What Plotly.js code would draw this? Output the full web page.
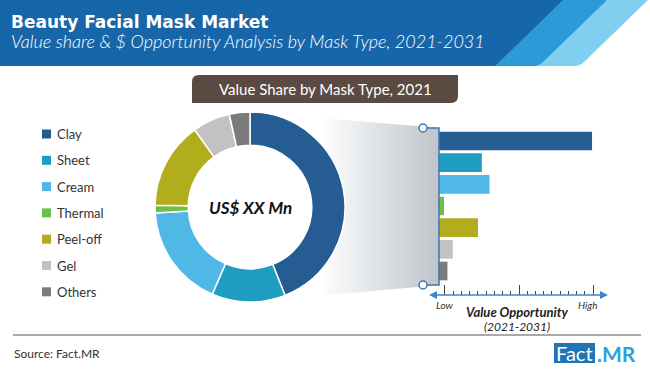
<!DOCTYPE html>
<html>
<head>
<meta charset="utf-8">
<script src="https://cdn.plot.ly/plotly-3.0.1.min.js"></script>
<style>html,body{margin:0;padding:0;background:#fff;}#chart{width:650px;height:371px;}</style>
</head>
<body>
<div id="chart"></div>
<script>
// ---- data ----
const categories = ['Clay', 'Sheet', 'Cream', 'Thermal', 'Peel-off', 'Gel', 'Others'];
const share2021 = [44, 12.5, 17.5, 1.3, 14.8, 6.4, 3.5];          // value share, %, 2021
const opportunity = [100, 28, 33, 3.3, 25.5, 9, 5.5];              // relative $ opportunity index 2021-2031
const colors = ['#255d92', '#1f9cc2', '#50b8e6', '#6cbf4a', '#b1ad1c', '#c2c2c2', '#7b7b7b'];
const scaleLabels = ['Low', 'High'];

const titleText = 'Beauty Facial Mask Market';
const subtitleText = 'Value share & $ Opportunity Analysis by Mask Type, 2021-2031';
const pieTitle = 'Value Share by Mask Type, 2021';
const centerText = 'US$ XX Mn';
const axisTitle1 = 'Value Opportunity';
const axisTitle2 = '(2021-2031)';
const sourceText = 'Source: Fact.MR';

const W = 650, H = 371;
const FONT = 'Lato, "Open Sans", sans-serif';

const traces = [];

// gradient funnel (decoration, pixel axis x2/y2)
traces.push({
  type: 'scatter', mode: 'lines', xaxis: 'x2', yaxis: 'y2',
  x: [250, 439, 439, 250], y: [112, 128, 285, 302],
  fill: 'toself', line: {width: 0, color: 'rgba(0,0,0,0)'},
  fillgradient: {type: 'horizontal', colorscale: [[0, '#ffffff'], [0.37, '#ffffff'], [0.7, '#dce0e4'], [1, '#c0c4c8']]},
  hoverinfo: 'skip', showlegend: false
});

// bars
traces.push({
  type: 'bar', orientation: 'h', xaxis: 'x', yaxis: 'y',
  y: categories, x: opportunity,
  marker: {color: colors, line: {width: 0}},
  hoverinfo: 'none', showlegend: false
});

// donut
traces.push({
  type: 'pie', labels: categories, values: share2021,
  marker: {colors: colors, line: {color: '#ffffff', width: 1.5}},
  hole: 0.65, sort: false, direction: 'clockwise', rotation: 0,
  textinfo: 'none', hoverinfo: 'none', showlegend: false,
  domain: {x: [155 / W, 345 / W], y: [(H - 302) / H, (H - 112) / H]}
});

const shapes = [];
const P = {xref: 'x2', yref: 'y2'};
function sh(o) { return Object.assign({}, P, o); }

// header band
shapes.push(sh({type: 'path', path: 'M0,0 L648,0 L584,62 Q580,66 574,66 L0,66 Z', fillcolor: '#80cff0', line: {width: 0}, layer: 'below'}));
shapes.push(sh({type: 'path', path: 'M0,0 L607,0 L543,62 Q539,66 533,66 L0,66 Z', fillcolor: '#2b9ad6', line: {width: 0}, layer: 'below'}));
shapes.push(sh({type: 'path', path: 'M0,0 L563,0 L495,66 L0,66 Z', fillcolor: '#1766aa', line: {width: 0}, layer: 'below'}));

// title box
shapes.push(sh({type: 'path', path: 'M199,75 L458,75 L458,96 Q458,103 451,103 L192,103 L192,82 Q192,75 199,75 Z', fillcolor: '#5b4a42', line: {width: 0}}));

// bracket
shapes.push(sh({type: 'path', path: 'M423,128 L439,128 L439,285 L423,285', line: {color: '#3a78b4', width: 1.5}}));
shapes.push(sh({type: 'circle', x0: 419, x1: 427, y0: 124, y1: 132, fillcolor: '#ffffff', line: {color: '#3a78b4', width: 1.5}}));
shapes.push(sh({type: 'circle', x0: 419, x1: 427, y0: 281, y1: 289, fillcolor: '#ffffff', line: {color: '#3a78b4', width: 1.5}}));

// arrow
shapes.push(sh({type: 'line', x0: 435, x1: 602, y0: 295, y1: 295, line: {color: '#3b86c8', width: 1.5}}));
shapes.push(sh({type: 'path', path: 'M429,295 L437,291 L437,299 Z', fillcolor: '#3b86c8', line: {width: 0}}));
shapes.push(sh({type: 'path', path: 'M608,295 L600,291 L600,299 Z', fillcolor: '#3b86c8', line: {width: 0}}));

// separator
shapes.push(sh({type: 'line', x0: 13, x1: 641, y0: 335, y1: 335, line: {color: '#555555', width: 1}}));

// logo box
shapes.push(sh({type: 'rect', x0: 554, x1: 595, y0: 343, y1: 363, fillcolor: '#1f74b6', line: {width: 0}}));

const annotations = [];
function an(o) { return Object.assign({}, P, {showarrow: false, xanchor: 'left', yanchor: 'middle'}, o); }

annotations.push(an({x: 9, y: 22, text: '<b>' + titleText + '</b>', font: {family: '"DejaVu Sans", sans-serif', size: 17, color: '#ffffff'}}));
annotations.push(an({x: 9, y: 41, text: '<i>' + subtitleText + '</i>', font: {family: FONT, size: 18, weight: 300, color: '#ffffff'}}));
annotations.push(an({x: 325, y: 89, xanchor: 'center', text: pieTitle, font: {family: FONT, size: 15, color: '#ffffff'}}));
annotations.push(an({x: 250, y: 207, xanchor: 'center', text: '<b><i>' + centerText + '</i></b>', font: {family: FONT, size: 17, color: '#111111'}}));

// legend (from data arrays)
categories.forEach(function (c, i) {
  const yc = 134 + i * 26.3;
  shapes.push(sh({type: 'rect', x0: 42, x1: 51, y0: yc - 4.5, y1: yc + 4.5, fillcolor: colors[i], line: {width: 0}}));
  annotations.push(an({x: 55, y: yc, text: c, font: {family: FONT, size: 13, color: '#333333'}}));
});

annotations.push(an({x: 445, y: 305, xanchor: 'center', text: '<i>' + scaleLabels[0] + '</i>', font: {family: FONT, size: 10, color: '#333333'}}));
annotations.push(an({x: 587, y: 305, xanchor: 'center', text: '<i>' + scaleLabels[1] + '</i>', font: {family: FONT, size: 10, color: '#333333'}}));
annotations.push(an({x: 517, y: 312, xanchor: 'center', text: '<b><i>' + axisTitle1 + '</i></b>', font: {family: FONT, size: 13, color: '#222222'}}));
annotations.push(an({x: 517, y: 326, xanchor: 'center', text: '<i>' + axisTitle2 + '</i>', font: {family: FONT, size: 12, color: '#222222'}}));
annotations.push(an({x: 12, y: 353, text: sourceText, font: {family: FONT, size: 12, color: '#333333'}}));
annotations.push(an({x: 574.5, y: 353, xanchor: 'center', text: 'Fact', font: {family: FONT, size: 20, color: '#ffffff'}}));
annotations.push(an({x: 595, y: 353, text: '<b>.MR</b>', font: {family: FONT, size: 21, color: '#2c9fdf'}}));

const layout = {
  width: W, height: H,
  margin: {l: 0, r: 0, t: 0, b: 0, pad: 0},
  paper_bgcolor: '#ffffff', plot_bgcolor: 'rgba(0,0,0,0)',
  showlegend: false, bargap: 0.14,
  xaxis: {
    domain: [439 / W, 600 / W], range: [0, 105.2], anchor: 'y',
    showgrid: false, zeroline: false, showline: false, showticklabels: false,
    ticks: 'inside', tickmode: 'linear', tick0: 3.9, dtick: 48.4, ticklen: 10, tickwidth: 1, tickcolor: '#444444',
    minor: {ticks: 'inside', tick0: 3.9, dtick: 48.4 / 9, ticklen: 4, tickwidth: 1, tickcolor: '#444444', showgrid: false},
    fixedrange: true
  },
  yaxis: {
    domain: [(H - 295) / H, (H - 130.17) / H], range: [7.107, -0.5], type: 'category', anchor: 'x',
    showgrid: false, zeroline: false, showline: false, showticklabels: false, ticks: '', fixedrange: true
  },
  xaxis2: {domain: [0, 1], range: [0, W], visible: false, anchor: 'y2', fixedrange: true},
  yaxis2: {domain: [0, 1], range: [H, 0], visible: false, anchor: 'x2', fixedrange: true},
  shapes: shapes,
  annotations: annotations
};

Plotly.newPlot('chart', traces, layout, {staticPlot: true, displayModeBar: false});
</script>
</body>
</html>
